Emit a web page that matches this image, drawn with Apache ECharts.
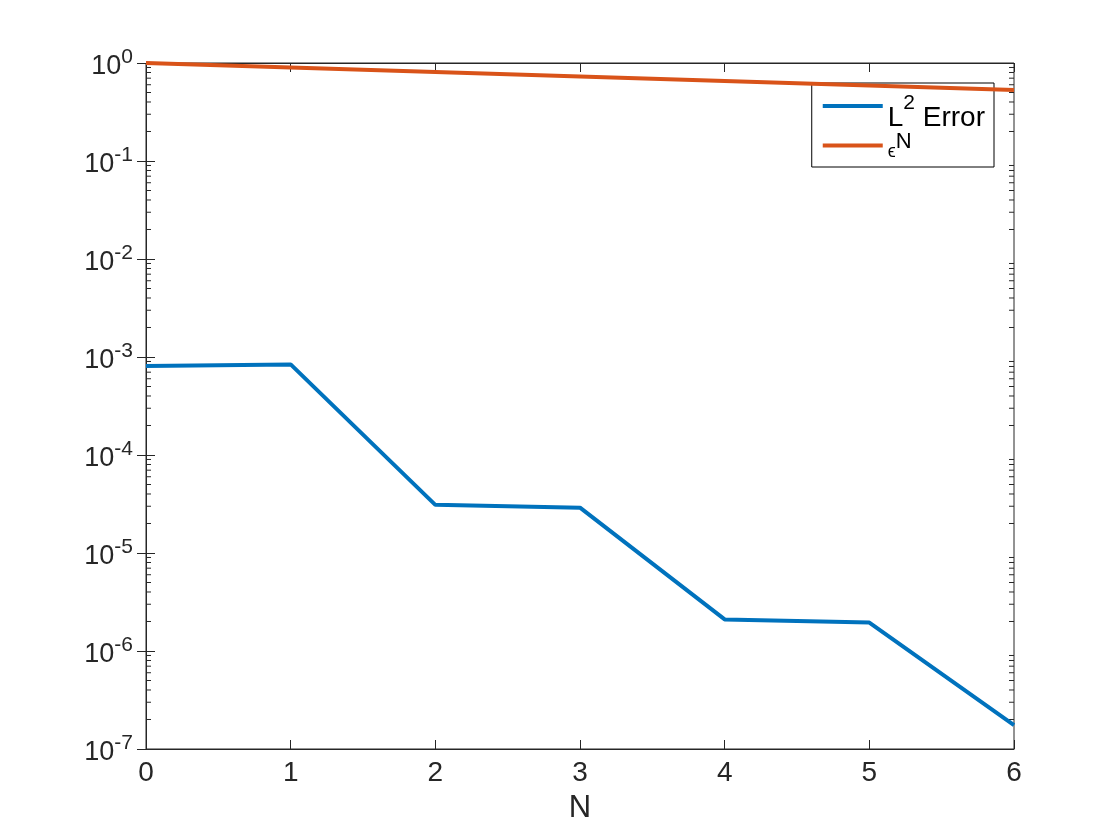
<!DOCTYPE html>
<html>
<head>
    <meta charset="utf-8">
    <title>L2 error vs N</title>
    <script src="https://cdn.jsdelivr.net/npm/echarts@6/dist/echarts.min.js"></script>
</head>
<body style="margin:0;background:#fff;">
<div id="main" style="width:1120px;height:840px;"></div>
<script type="text/javascript">
    // data
    var nValues = [0, 1, 2, 3, 4, 5, 6];
    var l2Error = [8.1e-4, 8.4e-4, 3.1e-5, 2.9e-5, 2.1e-6, 1.95e-6, 1.75e-7];
    var epsPow = [1, 0.9, 0.81, 0.729, 0.6561, 0.59049, 0.531441];
    var seriesNames = ['L2', 'eps'];

    // minor ticks at 2..9 of each decade (MATLAB style)
    var minorTicks = [];
    for (var e = -7; e < 0; e++) {
        for (var m = 2; m <= 9; m++) {
            minorTicks.push([m * Math.pow(10, e)]);
        }
    }

    var axisColor = '#262626';
    var font = 'Liberation Sans, Arial, Helvetica, sans-serif';

    var myChart = echarts.init(document.getElementById('main'));

    function pair(arrX, arrY) {
        var out = [];
        for (var i = 0; i < arrX.length; i++) out.push([arrX[i], arrY[i]]);
        return out;
    }

    // base text sits at the bottom of a tall line, exponent at its top
    var yLabel = {
        color: axisColor,
        margin: 13,
        formatter: function (v) {
            var e = Math.round(Math.log(v) / Math.LN10);
            return '{b|10}{s|' + e + '}';
        },
        rich: {
            b: {fontSize: 27, fontFamily: font, color: axisColor, lineHeight: 33.5, verticalAlign: 'bottom'},
            s: {fontSize: 21, fontFamily: font, color: axisColor, lineHeight: 21, verticalAlign: 'top'}
        }
    };

    // legend text: every token hangs from the top of a 52px line, padding sets its height
    var legendRich = {
        t: {fontSize: 28, fontFamily: font, color: '#000', lineHeight: 52, verticalAlign: 'top', padding: [24.5, 0, 0, 0]},
        s: {fontSize: 21, fontFamily: font, color: '#000', lineHeight: 21, verticalAlign: 'top', padding: [12.5, 0, 0, 0]},
        e: {fontSize: 18, fontFamily: font, color: '#000', lineHeight: 52, verticalAlign: 'top', padding: [23.5, 0, 0, 0]},
        n: {fontSize: 22, fontFamily: font, color: '#000', lineHeight: 22, verticalAlign: 'top', padding: [11, 0, 0, 0]}
    };

    myChart.setOption({
        animation: false,
        backgroundColor: '#fff',
        grid: {left: 146, right: 106, top: 63, bottom: 91, show: true, borderColor: axisColor, borderWidth: 1},
        legend: {
            data: seriesNames,
            right: 126,
            top: 83,
            orient: 'vertical',
            align: 'left',
            backgroundColor: '#fff',
            borderColor: '#000',
            borderWidth: 1,
            padding: [-3, 9, 6, 11],
            itemGap: -13,
            itemWidth: 60,
            itemHeight: 4,
            icon: 'rect',
            formatter: function (name) {
                return name === 'L2' ? '{t|L}{s|2}{t| Error}' : '{e|\u03f5}{n|N}';
            },
            textStyle: {rich: legendRich}
        },
        xAxis: [{
            type: 'value', min: 0, max: 6, interval: 1,
            name: 'N', nameLocation: 'middle', nameGap: 44,
            nameTextStyle: {fontSize: 31, fontFamily: font, color: axisColor},
            axisLine: {lineStyle: {color: axisColor}},
            axisTick: {inside: true, length: 9, lineStyle: {color: axisColor}},
            axisLabel: {fontSize: 28, fontFamily: font, color: axisColor, margin: 10},
            splitLine: {show: false}
        }, {
            type: 'value', min: 0, max: 6, interval: 1, position: 'top',
            axisLine: {lineStyle: {color: axisColor}},
            axisTick: {inside: true, length: 9, lineStyle: {color: axisColor}},
            axisLabel: {show: false},
            splitLine: {show: false}
        }],
        yAxis: [{
            type: 'log', logBase: 10, min: 1e-7, max: 1, splitNumber: 7,
            axisLine: {lineStyle: {color: axisColor}},
            axisTick: {inside: true, length: 9, lineStyle: {color: axisColor}},
            axisLabel: yLabel,
            splitLine: {show: false}
        }, {
            type: 'log', logBase: 10, min: 1e-7, max: 1, splitNumber: 7, position: 'right',
            axisLine: {lineStyle: {color: axisColor}},
            axisTick: {inside: true, length: 9, lineStyle: {color: axisColor}},
            axisLabel: {show: false},
            splitLine: {show: false}
        }],
        series: [{
            name: 'minor',
            type: 'custom',
            silent: true,
            xAxisIndex: 0,
            yAxisIndex: 0,
            data: minorTicks,
            renderItem: function (params, api) {
                var v = api.value(0);
                var l = api.coord([0, v]);
                var r = api.coord([6, v]);
                return {
                    type: 'group',
                    children: [{
                        type: 'line',
                        shape: {x1: l[0], y1: l[1], x2: l[0] + 5, y2: l[1]},
                        style: {stroke: axisColor, lineWidth: 1}
                    }, {
                        type: 'line',
                        shape: {x1: r[0], y1: r[1], x2: r[0] - 5, y2: r[1]},
                        style: {stroke: axisColor, lineWidth: 1}
                    }]
                };
            },
            encode: {y: 0}
        }, {
            name: 'L2',
            type: 'line',
            data: pair(nValues, l2Error),
            showSymbol: false,
            symbol: 'none',
            clip: false,
            color: '#0072BD',
            lineStyle: {width: 4, color: '#0072BD'},
            z: 5
        }, {
            name: 'eps',
            type: 'line',
            data: pair(nValues, epsPow),
            showSymbol: false,
            symbol: 'none',
            clip: false,
            color: '#D95319',
            lineStyle: {width: 4, color: '#D95319'},
            z: 5
        }]
    });
</script>
</body>
</html>
